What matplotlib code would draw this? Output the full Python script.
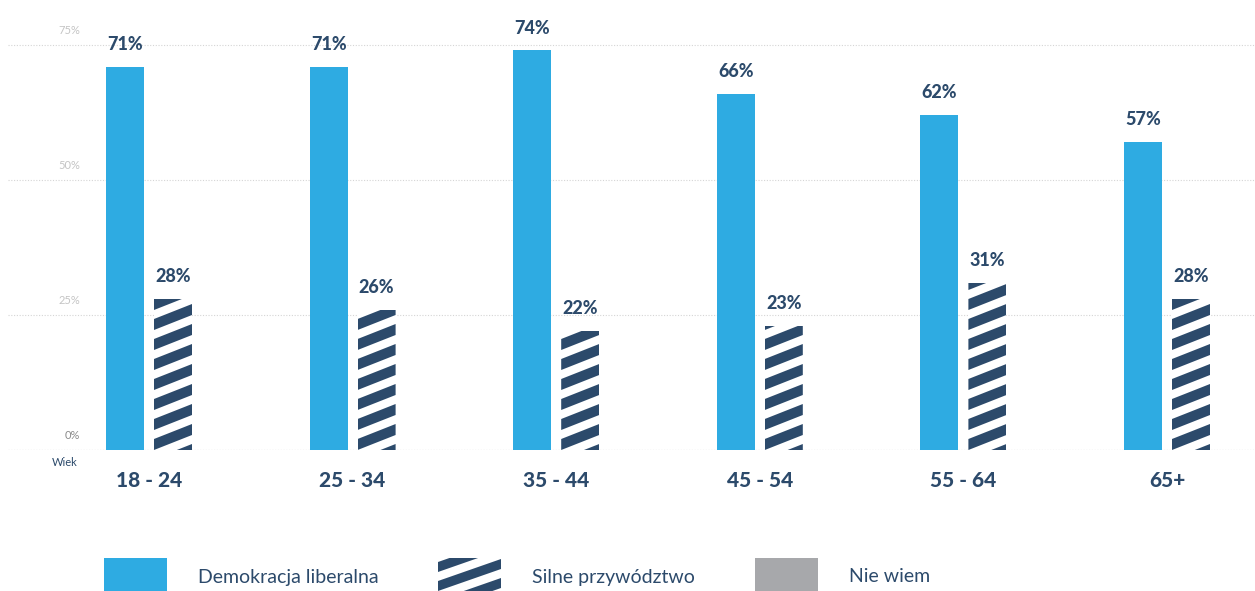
import matplotlib.pyplot as plt
from matplotlib.patches import Rectangle, Polygon
from matplotlib.collections import PatchCollection

plt.rcParams['font.family'] = ['Lato', 'DejaVu Sans']

# dane
grupy = ['18 - 24', '25 - 34', '35 - 44', '45 - 54', '55 - 64', '65+']
demokracja = [71, 71, 74, 66, 62, 57]
silne = [28, 26, 22, 23, 31, 28]
serie = ['Demokracja liberalna', 'Silne przywództwo', 'Nie wiem']
yticks = [0, 25, 50, 75]

NIEBIESKI = '#2EABE2'
GRANAT = '#2C4A6B'
SZARY = '#A7A8AB'

W, H = 1255, 591
fig = plt.figure(figsize=(W / 100, H / 100), dpi=100)

# 1% = 5.4 px, zero na y=450 px
px_na_jedn = 5.4
ax_bottom = (H - 450) / H
ax_h = 448 / H
ax = fig.add_axes([8 / W, ax_bottom, 1 - 8 / W, ax_h])
ax.set_ylim(0, 448 / px_na_jedn)

krok = 203.6  # px miedzy grupami
ax.set_xlim((8 - 149) / krok, (W - 149) / krok)
szer = 38 / krok
przes = 24 / krok

x = list(range(len(grupy)))
b1 = ax.bar([i - przes for i in x], demokracja, width=szer, color=NIEBIESKI, zorder=3)
b2 = ax.bar([i + przes for i in x], silne, width=szer, color='white', zorder=3)


def paski(axis, rect, okres, wzrost, grubosc, kolor, zorder=4):
    x0 = rect.get_x()
    x1 = x0 + rect.get_width()
    y0 = rect.get_y()
    h = rect.get_height()
    polys = []
    k = -2
    while k * okres < h + okres:
        yb = y0 + k * okres
        polys.append(Polygon([(x0, yb), (x1, yb + wzrost), (x1, yb + wzrost + grubosc), (x0, yb + grubosc)]))
        k += 1
    pc = PatchCollection(polys, facecolor=kolor, edgecolor='none', zorder=zorder)
    axis.add_collection(pc)
    pc.set_clip_path(rect)


for r in b2:
    paski(ax, r, 20 / px_na_jedn, 15 / px_na_jedn, 11 / px_na_jedn, GRANAT)

# etykiety wartosci
for bars, vals in ((b1, demokracja), (b2, silne)):
    for r, v in zip(bars, vals):
        ax.annotate(f'{v}%', (r.get_x() + r.get_width() / 2, v), xytext=(0, 10),
                    textcoords='offset points', ha='center', va='bottom',
                    fontsize=13, fontweight='black', color=GRANAT, zorder=5)

# siatka
for t in yticks:
    if t == 0:
        ax.axhline(0, color='#8C8C8C', lw=0.8, ls=(0, (1, 1.5)), zorder=2)
    else:
        ax.axhline(t, color='#D5D5D5', lw=0.8, ls=(0, (1, 1.5)), zorder=1)
    ax.text(72 / 1247, t + 1.7, f'{t}%', transform=ax.get_yaxis_transform(),
            ha='right', va='bottom', fontsize=8,
            color='#8A8A8A' if t == 0 else '#C4C4C4')

ax.text(70 / 1247, -1.3, 'Wiek', transform=ax.get_yaxis_transform(),
        ha='right', va='top', fontsize=8, color=GRANAT)

ax.set_xticks(x)
ax.set_xticklabels(grupy, fontsize=15, fontweight='black', color=GRANAT)
ax.tick_params(axis='x', length=0, pad=15)
ax.set_yticks([])
for s in ax.spines.values():
    s.set_visible(False)

# legenda
lax = fig.add_axes([0, 0, 1, 60 / H])
lax.set_xlim(0, W)
lax.set_ylim(0, 60)
lax.axis('off')
kolory = [NIEBIESKI, None, SZARY]
pozx = [104, 438, 755]
for nazwa, kol, px in zip(serie, kolory, pozx):
    if kol is None:
        r = Rectangle((px, 0), 63, 33, facecolor='white', edgecolor='none')
        lax.add_patch(r)
        paski(lax, r, 19, 22, 10, GRANAT)
    else:
        lax.add_patch(Rectangle((px, 0), 63, 33, facecolor=kol, edgecolor='none'))
    lax.text(px + 94, 14, nazwa, ha='left', va='center', fontsize=14, color=GRANAT)

fig.savefig('out.png', dpi=100)
